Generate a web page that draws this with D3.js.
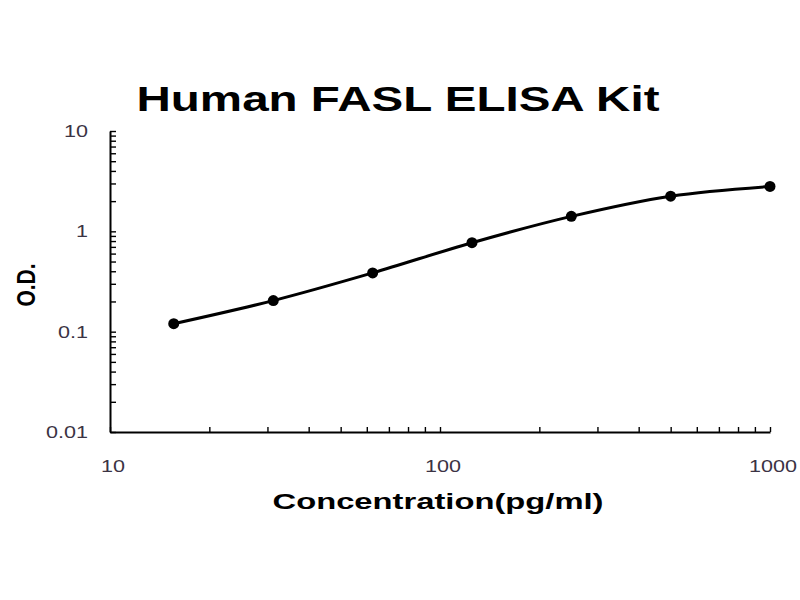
<!DOCTYPE html>
<html>
<head>
<meta charset="utf-8">
<script src="https://cdn.jsdelivr.net/npm/d3@7"></script>
<style>
  body { margin: 0; background: #fff; }
  svg { display: block; }
</style>
</head>
<body>
<div id="chart"></div>
<script>
// standard curve values
const concentration = [15.6, 31.25, 62.5, 125, 250, 500, 1000];
const od = [0.12, 0.204, 0.385, 0.77, 1.41, 2.24, 2.8];
const xTickValues = [10, 100, 1000];
const yTickValues = [0.01, 0.1, 1, 10];

const containerWidth = 800;
const containerHeight = 600;
const margin = { top: 131, right: 30, bottom: 168, left: 110 };
const width = containerWidth - margin.left - margin.right;
const height = containerHeight - margin.top - margin.bottom;

const svg = d3.select('#chart')
  .append('svg')
  .attr('width', containerWidth)
  .attr('height', containerHeight);

const g = svg.append('g')
  .attr('transform', `translate(${margin.left}, ${margin.top})`);

const xScale = d3.scaleLog().domain([10, 1000]).range([0, width]);
const yScale = d3.scaleLog().domain([0.01, 10]).range([height, 0]);

const labelColor = '#3b3344';
const font = '"Liberation Sans", Arial, sans-serif';
const stretch = 1.35; // the source picture is stretched sideways

// minor + major ticks, drawn inward
const xAxis = g.append('g')
  .attr('transform', `translate(0, ${height})`)
  .call(d3.axisTop(xScale).tickValues(xScale.ticks()).tickSize(5).tickFormat('').tickSizeOuter(0));
const yAxis = g.append('g')
  .call(d3.axisRight(yScale).tickValues(yScale.ticks()).tickSize(6).tickFormat('').tickSizeOuter(0));

[xAxis, yAxis].forEach(a => {
  a.select('.domain').attr('stroke', '#000').attr('stroke-width', 2);
  a.selectAll('.tick line').attr('stroke', '#000').attr('stroke-width', 1.4);
});

// tick labels
g.selectAll('.xlab')
  .data(xTickValues)
  .enter()
  .append('text')
  .attr('transform', d => `translate(${xScale(d) + 3}, ${height + 40}) scale(${stretch}, 1)`)
  .attr('text-anchor', 'middle')
  .attr('font-family', font)
  .attr('font-size', 16)
  .attr('fill', labelColor)
  .text(d => d);

g.selectAll('.ylab')
  .data(yTickValues)
  .enter()
  .append('text')
  .attr('transform', d => `translate(-22, ${yScale(d) + 6}) scale(${stretch}, 1)`)
  .attr('text-anchor', 'end')
  .attr('font-family', font)
  .attr('font-size', 16)
  .attr('fill', labelColor)
  .text(d => d);

// fitted curve
const line = d3.line()
  .x((d, i) => xScale(concentration[i]))
  .y(d => yScale(d))
  .curve(d3.curveMonotoneX);

g.append('path')
  .datum(od)
  .attr('fill', 'none')
  .attr('stroke', '#000')
  .attr('stroke-width', 3)
  .attr('d', line);

g.selectAll('.dot')
  .data(od)
  .enter()
  .append('circle')
  .attr('cx', (d, i) => xScale(concentration[i]))
  .attr('cy', d => yScale(d))
  .attr('r', 5.5)
  .attr('fill', '#000');

// titles
svg.append('text')
  .attr('x', 398)
  .attr('y', 111)
  .attr('text-anchor', 'middle')
  .attr('font-family', font)
  .attr('font-weight', 'bold')
  .attr('font-size', 35)
  .attr('textLength', 523)
  .attr('lengthAdjust', 'spacingAndGlyphs')
  .attr('fill', '#000')
  .text('Human FASL ELISA Kit');

svg.append('text')
  .attr('x', 438)
  .attr('y', 509)
  .attr('text-anchor', 'middle')
  .attr('font-family', font)
  .attr('font-weight', 'bold')
  .attr('font-size', 22)
  .attr('textLength', 331)
  .attr('lengthAdjust', 'spacingAndGlyphs')
  .attr('fill', '#000')
  .text('Concentration(pg/ml)');

svg.append('text')
  .attr('transform', 'translate(35, 285) rotate(-90) scale(1, 1.25)')
  .attr('text-anchor', 'middle')
  .attr('font-family', font)
  .attr('font-weight', 'bold')
  .attr('font-size', 21)
  .attr('fill', '#000')
  .text('O.D.');
</script>
</body>
</html>
